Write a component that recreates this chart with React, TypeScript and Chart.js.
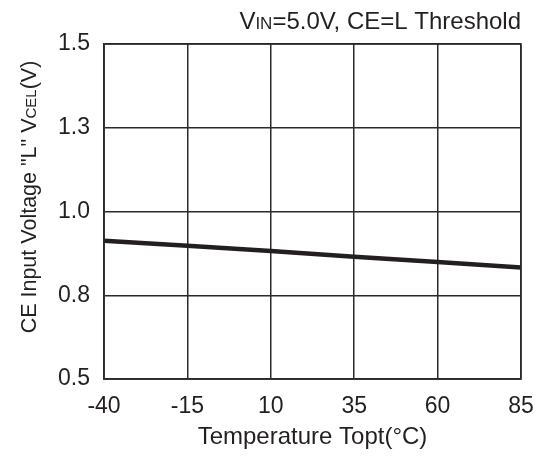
import React, { useEffect, useRef } from "react";
import { Chart, registerables } from "chart.js";

Chart.register(...registerables);

const temperatures = [-40, -15, 10, 35, 60, 85];
const vcel = [0.913, 0.898, 0.882, 0.865, 0.849, 0.833];
const xTicks = [-40, -15, 10, 35, 60, 85];
const yTicks = [0.5, 0.75, 1.0, 1.25, 1.5];

const FONT = "'Liberation Sans', Arial, sans-serif";
const INK = "#231f20";
const SIZE = 23;

type Seg = { t: string; small?: boolean };

function drawSegs(ctx: CanvasRenderingContext2D, segs: Seg[], x: number, y: number, align: "left" | "right" | "center", size: number) {
  const sub = Math.round(size * 0.7);
  const widths = segs.map((s) => {
    ctx.font = `${s.small ? sub : size}px ${FONT}`;
    return ctx.measureText(s.t).width;
  });
  const total = widths.reduce((a, b) => a + b, 0);
  let cx = align === "left" ? x : align === "right" ? x - total : x - total / 2;
  ctx.textAlign = "left";
  ctx.textBaseline = "alphabetic";
  segs.forEach((s, i) => {
    ctx.font = `${s.small ? sub : size}px ${FONT}`;
    ctx.fillText(s.t, cx, y);
    cx += widths[i];
  });
}

const titlesPlugin = {
  id: "titles",
  afterDraw(chart: any) {
    const ctx = chart.ctx as CanvasRenderingContext2D;
    const area = chart.chartArea;
    ctx.save();
    ctx.fillStyle = INK;
    drawSegs(ctx, [{ t: "V" }, { t: "IN", small: true }, { t: "=5.0V, CE=L Threshold" }], area.right, 29, "right", 24);
    drawSegs(ctx, [{ t: "Temperature Topt(°C)" }], (area.left + area.right) / 2, 444, "center", 24);
    ctx.translate(36, 197);
    ctx.rotate(-Math.PI / 2);
    drawSegs(ctx, [{ t: "CE Input Voltage \"L\" V" }, { t: "CEL", small: true }, { t: "(V)" }], 0, 0, "center", 21.5);
    ctx.restore();
  },
};

export default function App() {
  const ref = useRef<HTMLCanvasElement>(null);
  useEffect(() => {
    document.body.style.margin = "0";
    const chart = new Chart(ref.current!, {
      type: "line",
      data: {
        datasets: [
          {
            data: temperatures.map((t, i) => ({ x: t, y: vcel[i] })),
            borderColor: INK,
            borderWidth: 4.5,
            pointRadius: 0,
            tension: 0,
          },
        ],
      },
      options: {
        animation: false,
        responsive: false,
        layout: { padding: { top: 44, right: 19, left: 0, bottom: 0 } },
        plugins: { legend: { display: false }, tooltip: { enabled: false } },
        scales: {
          x: {
            type: "linear",
            min: -40,
            max: 85,
            afterBuildTicks: (s: any) => {
              s.ticks = xTicks.map((v) => ({ value: v }));
            },
            afterFit: (s: any) => {
              s.height = 77;
              s.paddingLeft = 0;
              s.paddingRight = 0;
            },
            grid: { color: "#2a2a2a", lineWidth: 1.5, drawTicks: false },
            border: { color: "#2a2a2a", width: 1.5 },
            ticks: { color: INK, font: { family: FONT, size: SIZE }, padding: 14, maxRotation: 0 },
          },
          y: {
            type: "linear",
            min: 0.5,
            max: 1.5,
            afterBuildTicks: (s: any) => {
              s.ticks = yTicks.map((v) => ({ value: v }));
            },
            afterFit: (s: any) => {
              s.width = 104;
              s.paddingTop = 0;
              s.paddingBottom = 0;
            },
            grid: { color: "#2a2a2a", lineWidth: 1.5, drawTicks: false },
            border: { color: "#2a2a2a", width: 1.5 },
            ticks: {
              color: INK,
              font: { family: FONT, size: SIZE },
              padding: 14,
              callback: (v: any) => Number(v).toFixed(1),
            },
          },
        },
      },
      plugins: [
        titlesPlugin,
        {
          id: "frame",
          afterDatasetsDraw(chart: any) {
            const { ctx, chartArea: a } = chart;
            ctx.save();
            ctx.strokeStyle = "#2a2a2a";
            ctx.lineWidth = 1.5;
            ctx.strokeRect(a.left, a.top, a.right - a.left, a.bottom - a.top);
            ctx.restore();
          },
        },
      ],
    } as any);
    return () => chart.destroy();
  }, []);
  return (
    <div style={{ width: 540, height: 456 }}>
      <canvas ref={ref} width={540} height={456} />
    </div>
  );
}
